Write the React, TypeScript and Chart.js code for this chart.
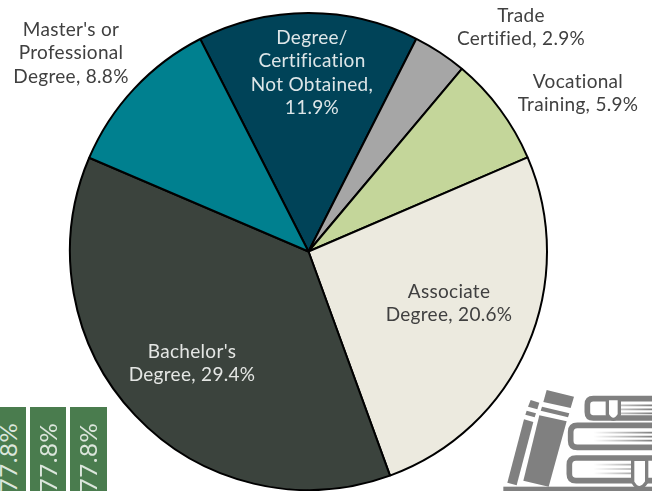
import React, { useEffect, useRef } from "react";
import { Chart, registerables } from "chart.js";

Chart.register(...registerables);

const categories = [
  "Degree/Certification Not Obtained",
  "Trade Certified",
  "Vocational Training",
  "Associate Degree",
  "Bachelor's Degree",
  "Master's or Professional Degree",
];
const shares = [11.9, 2.9, 5.9, 20.6, 29.4, 8.8];
const sliceColors = ["#004358", "#A6A6A6", "#C4D69A", "#ECEADF", "#3B433D", "#00808F"];
const labelLines = [
  ["Degree/", "Certification", "Not Obtained,", "11.9%"],
  ["Trade", "Certified, 2.9%"],
  ["Vocational", "Training, 5.9%"],
  ["Associate", "Degree, 20.6%"],
  ["Bachelor's", "Degree, 29.4%"],
  ["Master's or", "Professional", "Degree, 8.8%"],
];
const labelCenters = [
  [312, 38],
  [521, 16],
  [578, 82],
  [449, 292],
  [192, 351.5],
  [71, 30],
];
const labelColors = ["#DDE6E8", "#404040", "#404040", "#404040", "#E4E6E4", "#404040"];
const bannerText = ", 77.8%";
const FONT = "Lato, sans-serif";

const labelPlugin = {
  id: "sliceLabels",
  afterDatasetsDraw(chart: any) {
    const ctx = chart.ctx;
    ctx.save();
    ctx.font = `19px ${FONT}`;
    ctx.letterSpacing = "0.3px";
    ctx.textAlign = "center";
    ctx.textBaseline = "middle";
    labelLines.forEach((lines, i) => {
      ctx.fillStyle = labelColors[i];
      lines.forEach((line, j) => {
        ctx.fillText(line, labelCenters[i][0], labelCenters[i][1] + j * 23.2);
      });
    });
    ctx.restore();
  },
};

const banners = [
  { left: -10, width: 36 },
  { left: 29.5, width: 36.5 },
  { left: 70, width: 36.5 },
];

function Books() {
  return (
    <svg
      width={152}
      height={111}
      viewBox="0 0 456 333"
      style={{ position: "absolute", left: 500, top: 380 }}
    >
      <defs>
        <linearGradient id="fadeA" gradientUnits="userSpaceOnUse" x1="280" y1="0" x2="456" y2="0">
          <stop offset="0" stopColor="#ffffff" />
          <stop offset="1" stopColor="#808080" />
        </linearGradient>
      </defs>
      <rect x="10" y="320" width="446" height="13" fill="#808080" />
      <path d="M92 60 L118 68 L112 88 L84 80 Z" fill="#808080" />
      <path d="M80 92 L108 100 L104 112 L76 104 Z" fill="#808080" />
      <path d="M72 118 L100 126 L50 316 L22 308 Z" fill="#808080" />
      <path d="M140 30 L222 50 L212 84 L130 66 Z" fill="#808080" />
      <path d="M126 80 L208 100 L204 112 L122 92 Z" fill="#808080" />
      <path d="M118 106 L200 124 L146 320 L70 302 Z" fill="#808080" />
      <g stroke="url(#fadeA)" strokeWidth="5">
        <line x1="350" y1="76" x2="456" y2="76" />
        <line x1="350" y1="88" x2="456" y2="88" />
        <line x1="350" y1="100" x2="456" y2="100" />
        <line x1="225" y1="158" x2="456" y2="158" />
        <line x1="225" y1="170" x2="456" y2="170" />
        <line x1="225" y1="182" x2="456" y2="182" />
        <line x1="225" y1="254" x2="400" y2="254" />
        <line x1="225" y1="267" x2="400" y2="267" />
        <line x1="225" y1="280" x2="400" y2="280" />
      </g>
      <g fill="none" stroke="#808080" strokeWidth="17">
        <path d="M456 56 H280 Q262 56 262 74 V96 Q262 114 280 114 H456" />
        <path d="M456 136 H232 Q212 136 212 156 V182 Q212 202 232 202 H456" />
        <path d="M456 234 H228 Q208 234 208 254 V282 Q208 302 228 302 H456" />
      </g>
      <path d="M322 56 V104 Q340 132 358 104 V56 Z" fill="#fff" stroke="#808080" strokeWidth="10" />
      <path d="M398 238 V306 Q418 340 440 306 V238 Z" fill="#fff" stroke="#808080" strokeWidth="10" />
    </svg>
  );
}

export default function App() {
  const ref = useRef<HTMLCanvasElement>(null);
  useEffect(() => {
    const chart = new Chart(ref.current!, {
      type: "pie",
      data: {
        labels: categories,
        datasets: [
          {
            data: shares,
            backgroundColor: sliceColors,
            borderColor: "#000000",
            borderWidth: 2,
            borderAlign: "center",
          },
        ],
      },
      options: {
        responsive: false,
        animation: false,
        rotation: -27,
        layout: { padding: { left: 69, right: 104, top: 12, bottom: 0 } },
        plugins: { legend: { display: false }, tooltip: { enabled: false } },
      },
      plugins: [labelPlugin],
    } as any);
    return () => chart.destroy();
  }, []);

  return (
    <div
      style={{
        position: "absolute",
        left: 0,
        top: 0,
        width: 652,
        height: 491,
        overflow: "hidden",
        background: "#fff",
      }}
    >
      <canvas ref={ref} width={652} height={491} style={{ display: "block" }} />
      {banners.map((b, i) => (
        <div
          key={i}
          style={{
            position: "absolute",
            left: b.left,
            top: 407,
            width: b.width,
            height: 84,
            background: "#4A7C4E",
            overflow: "hidden",
          }}
        >
          <div
            style={{
              position: "absolute",
              left: 0,
              top: 16,
              width: b.width,
              height: 90,
              writingMode: "vertical-rl",
              rotate: "180deg",
              textAlign: "left",
              lineHeight: `${b.width}px`,
              fontFamily: FONT,
              fontSize: 24,
              letterSpacing: 0.6,
              color: "#DCE6DC",
              whiteSpace: "nowrap",
            }}
          >
            <span style={{ display: "block", height: 90, textAlign: "right" }}>{bannerText}</span>
          </div>
        </div>
      ))}
      <Books />
    </div>
  );
}
